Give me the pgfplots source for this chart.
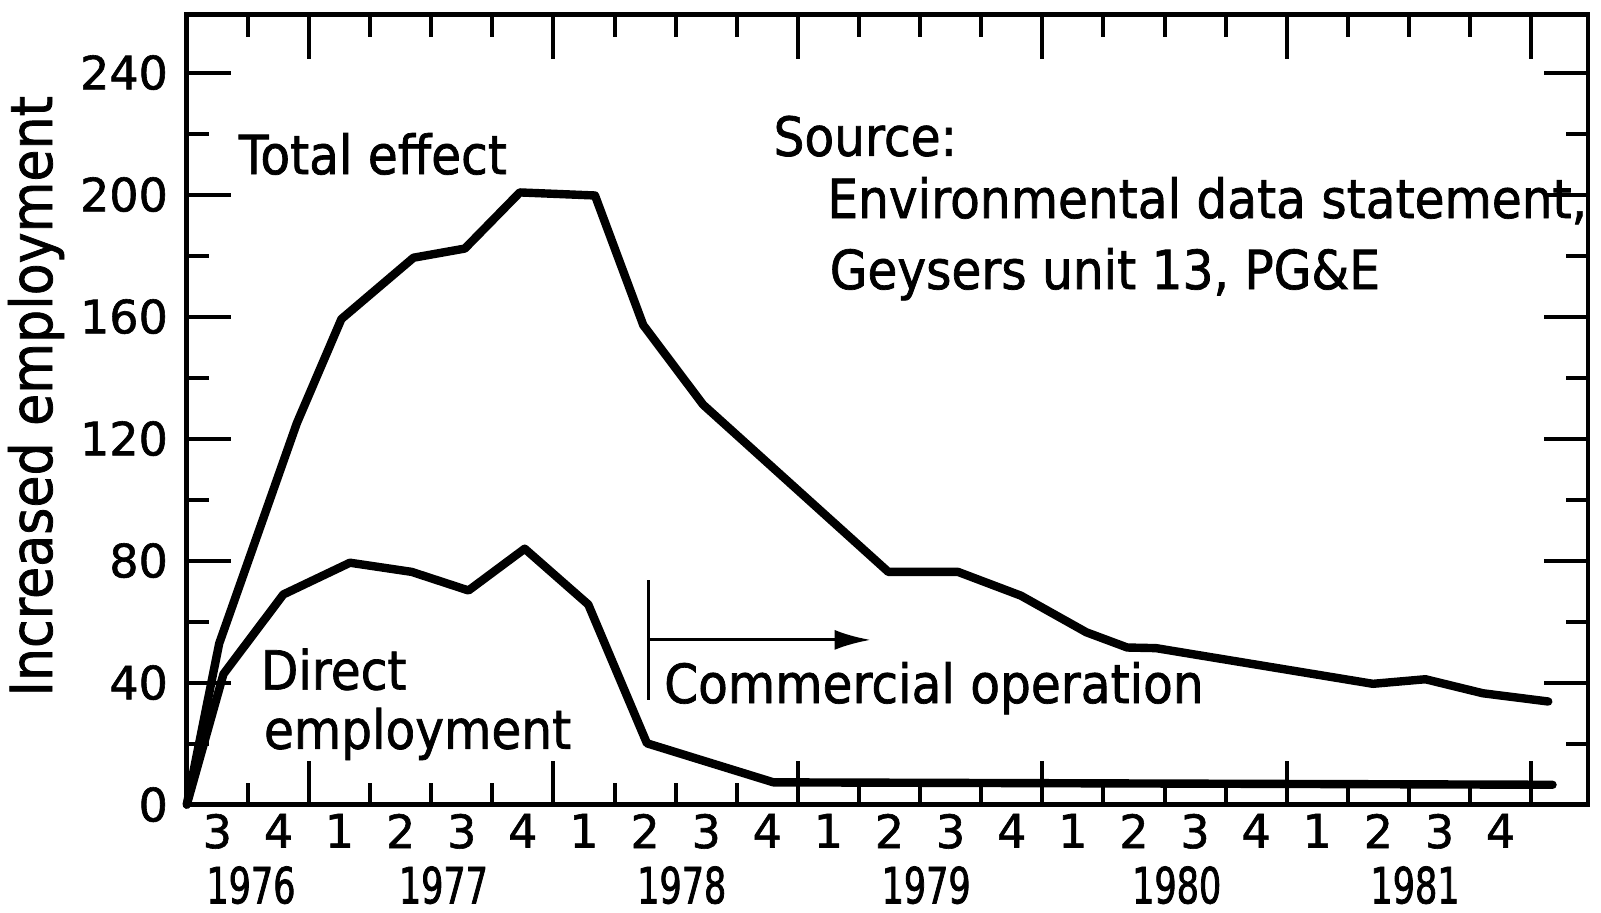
\documentclass[border=0pt]{standalone}
\usepackage{fontspec}
\setmainfont{DejaVu Sans}[FakeStretch=0.9, FakeBold=1.3]
\newfontfamily\tickfont{DejaVu Sans}[FakeBold=1.3]
\newfontfamily\yearfont{DejaVu Sans}[FakeStretch=0.7, FakeBold=1.5]
\usepackage{pgfplots}
\usepackage{pgfplotstable}
\pgfplotsset{compat=1.18}
\usetikzlibrary{arrows.meta}

\pgfplotstableread{
q v
0 0
0.53 52.8
1.8 125
2.53 159.2
3.71 179.3
4.55 182.3
5.45 200.7
6.68 199.7
7.47 157.2
8.45 131.1
11.48 76.3
12.62 76.3
13.65 68.5
14.72 56.5
15.39 51.5
15.86 51.3
19.41 39.6
20.27 41.1
21.21 36.5
22.28 33.8
}\totaltable

\pgfplotstableread{
q v
0 0
0.6 42.8
1.58 68.9
2.67 79.3
3.68 76.3
4.61 70.2
5.53 83.9
6.57 65.6
7.53 20.1
9.6 7.3
22.35 6.5
}\directtable

\newcommand\annot{\fontsize{13.5}{16}\selectfont}

\begin{document}
\begin{tikzpicture}
\begin{axis}[
  width=350.3pt, height=197.5pt, scale only axis,
  xmin=0, xmax=22.93, ymin=0, ymax=259,
  clip=false,
  axis line style={line width=1.2pt},
  tick align=inside,
  xtick pos=both, ytick pos=both,
  xtick={2,6,10,14,18,22}, xticklabels={},
  minor xtick={1,3,4,5,7,8,9,11,12,13,15,16,17,19,20,21},
  ytick={0,40,80,120,160,200,240},
  minor ytick={20,60,100,140,180,220},
  major tick length=11pt, minor tick length=5.5pt,
  tick style={black, line width=1pt},
  extra x ticks={0.5,1.5,2.5,3.5,4.5,5.5,6.5,7.5,8.5,9.5,10.5,11.5,12.5,13.5,14.5,15.5,16.5,17.5,18.5,19.5,20.5,21.5},
  extra x tick labels={3,4,1,2,3,4,1,2,3,4,1,2,3,4,1,2,3,4,1,2,3,4},
  extra x tick style={major tick length=0pt},
  ticklabel style={font=\tickfont\fontsize{11.5}{13}\selectfont},
  xticklabel style={yshift=1.2pt},
  yticklabel style={xshift=-1.2pt},
  /pgf/number format/assume math mode=true,
  ylabel={Increased employment},
  ylabel style={at={(axis description cs:-0.1076,0.517)}, anchor=center, font=\fontsize{14.5}{16}\selectfont},
]
\addplot[black, line width=2.1pt, line join=round, line cap=round] table[x=q,y=v]{\totaltable};
\addplot[black, line width=2.1pt, line join=round, line cap=round] table[x=q,y=v]{\directtable};

\begin{scope}[every node/.style={anchor=base west, inner sep=0pt, font=\annot}]
\node at (axis cs:0.84,206.7) {Total effect};
\node at (axis cs:9.59,212.7) {Source:};
\node at (axis cs:10.47,192.3) {Environmental data statement,};
\node at (axis cs:10.51,169) {Geysers unit 13, PG\&E};
\node at (axis cs:1.2,37.7) {Direct};
\node at (axis cs:1.25,18.3) {employment};
\node at (axis cs:7.8,33.3) {Commercial operation};
\end{scope}

\draw[line width=0.8pt] (axis cs:7.56,73.6) -- (axis cs:7.56,34.3);
\draw[line width=0.8pt, -{Latex[length=9pt,width=5pt]}] (axis cs:7.56,54) -- (axis cs:11.19,54);

\begin{scope}[every node/.style={anchor=base, yshift=-24.7pt, font=\yearfont\fontsize{12.5}{14}\selectfont}]
\node at (axis cs:1.05,0) {1976};
\node at (axis cs:4.2,0) {1977};
\node at (axis cs:8.1,0) {1978};
\node at (axis cs:12.1,0) {1979};
\node at (axis cs:16.2,0) {1980};
\node at (axis cs:20.1,0) {1981};
\end{scope}
\end{axis}
\pgfresetboundingbox
\path ([shift={(-46.7pt,-27.1pt)}]current axis.south west) rectangle ([shift={(3.25pt,3.65pt)}]current axis.north east);
\end{tikzpicture}
\end{document}
